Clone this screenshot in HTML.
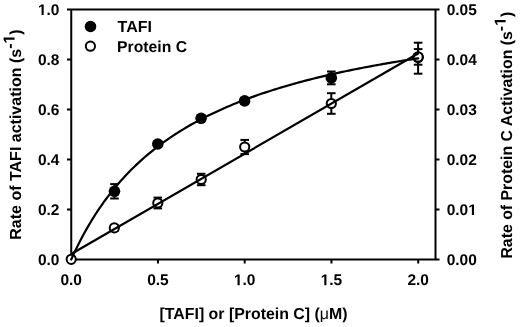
<!DOCTYPE html>
<html><head><meta charset="utf-8"><style>
html,body{margin:0;padding:0;background:#fff;}
body{width:520px;height:327px;overflow:hidden;}
svg{display:block;will-change:transform;filter:blur(0.35px);}
text{text-rendering:geometricPrecision;font-family:"Liberation Sans",sans-serif;font-weight:bold;font-size:15.5px;fill:#000;}
.o{fill-opacity:0;}
</style></head><body>
<svg width="520" height="327" viewBox="0 0 520 327">
<g stroke="#000" stroke-width="2" fill="none">
<path d="M67,9.5H435.5M71.25,9.5V259.5M435.5,9.5V259.5M71.25,259.5H436.5M67,259.5H71.25M67,209.5H71.25M67,159.5H71.25M67,109.5H71.25M67,59.5H71.25M67,9.5H71.25M435.5,259.5H439.5M435.5,209.5H439.5M435.5,159.5H439.5M435.5,109.5H439.5M435.5,59.5H439.5M435.5,9.5H439.5M71.20,259.5V263.5M157.95,259.5V263.5M244.70,259.5V263.5M331.45,259.5V263.5M418.20,259.5V263.5"/>
</g>
<g stroke="#000" stroke-width="2"><line x1="418.1" y1="42.70" x2="418.1" y2="73.70"/><line x1="413.80" y1="42.70" x2="422.40" y2="42.70"/><line x1="413.80" y1="73.70" x2="422.40" y2="73.70"/><line x1="114.5" y1="184.10" x2="114.5" y2="198.50"/><line x1="110.20" y1="184.10" x2="118.80" y2="184.10"/><line x1="110.20" y1="198.50" x2="118.80" y2="198.50"/><line x1="157.8" y1="141.00" x2="157.8" y2="147.00"/><line x1="153.50" y1="141.00" x2="162.10" y2="141.00"/><line x1="153.50" y1="147.00" x2="162.10" y2="147.00"/><line x1="201.1" y1="115.30" x2="201.1" y2="121.30"/><line x1="196.80" y1="115.30" x2="205.40" y2="115.30"/><line x1="196.80" y1="121.30" x2="205.40" y2="121.30"/><line x1="244.6" y1="97.90" x2="244.6" y2="103.90"/><line x1="240.30" y1="97.90" x2="248.90" y2="97.90"/><line x1="240.30" y1="103.90" x2="248.90" y2="103.90"/><line x1="331.3" y1="71.50" x2="331.3" y2="84.30"/><line x1="327.00" y1="71.50" x2="335.60" y2="71.50"/><line x1="327.00" y1="84.30" x2="335.60" y2="84.30"/><line x1="114.3" y1="224.90" x2="114.3" y2="230.90"/><line x1="110.00" y1="224.90" x2="118.60" y2="224.90"/><line x1="110.00" y1="230.90" x2="118.60" y2="230.90"/><line x1="157.8" y1="197.60" x2="157.8" y2="208.40"/><line x1="153.50" y1="197.60" x2="162.10" y2="197.60"/><line x1="153.50" y1="208.40" x2="162.10" y2="208.40"/><line x1="201.2" y1="173.80" x2="201.2" y2="185.20"/><line x1="196.90" y1="173.80" x2="205.50" y2="173.80"/><line x1="196.90" y1="185.20" x2="205.50" y2="185.20"/><line x1="244.7" y1="139.90" x2="244.7" y2="154.10"/><line x1="240.40" y1="139.90" x2="249.00" y2="139.90"/><line x1="240.40" y1="154.10" x2="249.00" y2="154.10"/><line x1="331.3" y1="93.20" x2="331.3" y2="113.80"/><line x1="327.00" y1="93.20" x2="335.60" y2="93.20"/><line x1="327.00" y1="113.80" x2="335.60" y2="113.80"/><line x1="418.1" y1="49.10" x2="418.1" y2="64.70"/><line x1="413.80" y1="49.10" x2="422.40" y2="49.10"/><line x1="413.80" y1="64.70" x2="422.40" y2="64.70"/></g>
<g fill="#000"><circle cx="114.5" cy="191.3" r="5.8"/><circle cx="157.8" cy="144.0" r="5.8"/><circle cx="201.1" cy="118.3" r="5.8"/><circle cx="244.6" cy="100.9" r="5.8"/><circle cx="331.3" cy="77.9" r="5.8"/><circle cx="418.1" cy="57.3" r="5.8"/></g>
<g fill="#fff" stroke="#000" stroke-width="2.0"><circle cx="71.2" cy="259.3" r="4.6"/><circle cx="114.3" cy="227.9" r="4.6"/><circle cx="157.8" cy="203.0" r="4.6"/><circle cx="201.2" cy="179.5" r="4.6"/><circle cx="244.7" cy="147.0" r="4.6"/><circle cx="331.3" cy="103.5" r="4.6"/><circle cx="418.1" cy="56.9" r="4.6"/></g>
<g stroke="#000" stroke-width="2.2" fill="none" stroke-linecap="round">
<polyline points="71.20,259.50 73.37,254.75 75.54,250.16 77.71,245.72 79.88,241.44 82.04,237.29 84.21,233.27 86.38,229.39 88.55,225.62 90.72,221.97 92.89,218.43 95.06,215.00 97.23,211.66 99.39,208.43 101.56,205.28 103.73,202.22 105.90,199.25 108.07,196.36 110.24,193.55 112.41,190.81 114.58,188.14 116.74,185.54 118.91,183.01 121.08,180.55 123.25,178.14 125.42,175.79 127.59,173.51 129.76,171.27 131.93,169.09 134.09,166.96 136.26,164.88 138.43,162.85 140.60,160.86 142.77,158.92 144.94,157.02 147.11,155.16 149.28,153.34 151.44,151.57 153.61,149.83 155.78,148.12 157.95,146.45 160.12,144.82 162.29,143.22 164.46,141.65 166.62,140.11 168.79,138.61 170.96,137.13 173.13,135.68 175.30,134.26 177.47,132.87 179.64,131.50 181.81,130.16 183.98,128.84 186.14,127.55 188.31,126.28 190.48,125.03 192.65,123.80 194.82,122.60 196.99,121.42 199.16,120.26 201.32,119.12 203.49,118.00 205.66,116.89 207.83,115.81 210.00,114.74 212.17,113.69 214.34,112.66 216.51,111.65 218.68,110.65 220.84,109.66 223.01,108.70 225.18,107.75 227.35,106.81 229.52,105.89 231.69,104.98 233.86,104.08 236.03,103.20 238.19,102.34 240.36,101.48 242.53,100.64 244.70,99.81 246.87,98.99 249.04,98.18 251.21,97.39 253.38,96.61 255.54,95.84 257.71,95.07 259.88,94.32 262.05,93.58 264.22,92.85 266.39,92.14 268.56,91.43 270.73,90.72 272.89,90.03 275.06,89.35 277.23,88.68 279.40,88.02 281.57,87.36 283.74,86.71 285.91,86.07 288.07,85.44 290.24,84.82 292.41,84.21 294.58,83.60 296.75,83.00 298.92,82.41 301.09,81.83 303.26,81.25 305.43,80.68 307.59,80.12 309.76,79.56 311.93,79.01 314.10,78.47 316.27,77.93 318.44,77.40 320.61,76.87 322.78,76.36 324.94,75.84 327.11,75.34 329.28,74.84 331.45,74.34 333.62,73.85 335.79,73.37 337.96,72.89 340.12,72.42 342.29,71.95 344.46,71.49 346.63,71.03 348.80,70.57 350.97,70.13 353.14,69.68 355.31,69.25 357.48,68.81 359.64,68.38 361.81,67.96 363.98,67.54 366.15,67.12 368.32,66.71 370.49,66.30 372.66,65.90 374.82,65.50 376.99,65.11 379.16,64.72 381.33,64.33 383.50,63.95 385.67,63.57 387.84,63.19 390.01,62.82 392.18,62.45 394.34,62.09 396.51,61.72 398.68,61.37 400.85,61.01 403.02,60.66 405.19,60.31 407.36,59.97 409.53,59.63 411.69,59.29 413.86,58.96 416.03,58.63 418.20,58.30"/>
<line x1="71.2" y1="254.0" x2="418.1" y2="53.5"/>
</g>
<text x="59.5" y="265.1" text-anchor="end">0.0</text><text x="59.5" y="215.1" text-anchor="end">0.2</text><text x="59.5" y="165.1" text-anchor="end">0.4</text><text x="59.5" y="115.1" text-anchor="end">0.6</text><text x="59.5" y="65.1" text-anchor="end">0.8</text><text x="59.5" y="15.1" text-anchor="end"><tspan class="o">1</tspan>.0</text><text x="446.7" y="265.1">0.00</text><text x="446.7" y="215.1">0.0<tspan class="o">1</tspan></text><text x="446.7" y="165.1">0.02</text><text x="446.7" y="115.1">0.03</text><text x="446.7" y="65.1">0.04</text><text x="446.7" y="15.1">0.05</text><text x="71.20" y="285.2" text-anchor="middle">0.0</text><text x="157.95" y="285.2" text-anchor="middle">0.5</text><text x="244.70" y="285.2" text-anchor="middle"><tspan class="o">1</tspan>.0</text><text x="331.45" y="285.2" text-anchor="middle"><tspan class="o">1</tspan>.5</text><text x="418.20" y="285.2" text-anchor="middle">2.0</text>
<circle cx="90.5" cy="26.5" r="5.8" fill="#000"/>
<circle cx="90.4" cy="46.2" r="4.6" fill="#fff" stroke="#000" stroke-width="2.0"/>
<text x="117.6" y="32.2" style="font-size:16px">TAFI</text>
<text x="117.1" y="52.2" style="font-size:15.75px">Protein C</text>
<text transform="translate(20.6,134.5) rotate(-90)" text-anchor="middle" style="font-size:16px">Rate of TAFI activation (s<tspan dy="-6">-<tspan class="o">1</tspan></tspan><tspan dy="6">)</tspan></text>
<text transform="translate(511.6,135.2) rotate(-90)" text-anchor="middle" style="font-size:15.85px">Rate of Protein C Activation (s<tspan dy="-6">-<tspan class="o">1</tspan></tspan><tspan dy="6">)</tspan></text>
<text x="253.5" y="319.2" text-anchor="middle" style="font-size:15.9px">[TAFI] or [Protein C] (<tspan style="font-weight:normal">&#956;</tspan>M)</text>
<g fill="#000"><path transform="matrix(0.00757,0.00000,0.00000,-0.00757,37.938,15.100)" d="M478,0V1170L140,959V1180L493,1409H759V0Z"/><path transform="matrix(0.00757,0.00000,0.00000,-0.00757,468.263,215.100)" d="M478,0V1170L140,959V1180L493,1409H759V0Z"/><path transform="matrix(0.00757,0.00000,0.00000,-0.00757,233.919,285.200)" d="M478,0V1170L140,959V1180L493,1409H759V0Z"/><path transform="matrix(0.00757,0.00000,0.00000,-0.00757,320.669,285.200)" d="M478,0V1170L140,959V1180L493,1409H759V0Z"/><path transform="matrix(0.00000,-0.00781,-0.00781,-0.00000,14.600,43.531)" d="M478,0V1170L140,959V1180L493,1409H759V0Z"/><path transform="matrix(0.00000,-0.00774,-0.00774,-0.00000,505.600,25.895)" d="M478,0V1170L140,959V1180L493,1409H759V0Z"/></g>
</svg>
</body></html>
